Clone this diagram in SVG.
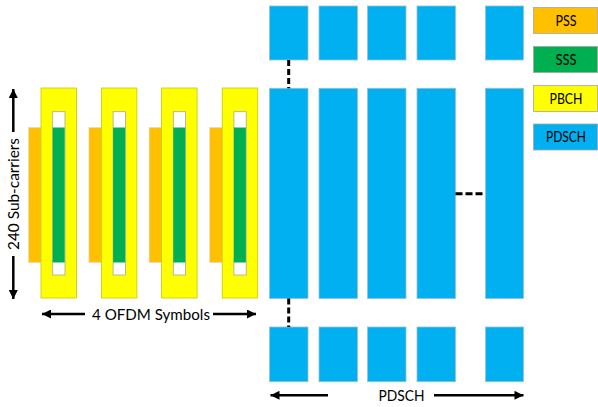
<svg xmlns="http://www.w3.org/2000/svg" width="598" height="407" viewBox="0 0 598 407">
<style>
.y{fill:#FFFF00;stroke:#c8c800;stroke-width:0.8}
.o{fill:#FFC000;stroke:#d9d9d9;stroke-width:0.6}
.g{fill:#00B050}
.w{fill:#ffffff;stroke:#a6a6a6;stroke-width:0.8}
.b{fill:#00B0F0;stroke:#9bbfd0;stroke-width:0.8}
.lg{stroke:#a6a6a6;stroke-width:0.8}
.t{font-family:Lato,"Liberation Sans",sans-serif;fill:#000}
.lt{font-family:Lato,"Liberation Sans",sans-serif;fill:#000;font-size:14.5px}
.dash{stroke:#000;stroke-width:3;fill:none}
.arr{stroke:#000;stroke-width:2.5;fill:none;marker-end:url(#ah)}
</style>
<defs>
<marker id="ah" viewBox="0 0 10 10" refX="10" refY="5" markerWidth="10" markerHeight="9" markerUnits="userSpaceOnUse" orient="auto">
<path d="M0,0 L10,5 L0,10 z" fill="#000"/>
</marker>
</defs>
<rect width="598" height="407" fill="#fff"/>

<g id="ssb1"><rect class="o" x="28.5" y="127.5" width="12.5" height="135"/><rect class="y" x="41" y="88" width="35.5" height="210"/><rect class="w" x="52.7" y="111.7" width="12.3" height="163.3"/><rect class="g" x="52.7" y="127.5" width="12" height="135"/></g>
<g id="ssb2"><rect class="o" x="88.9" y="127.5" width="12.5" height="135"/><rect class="y" x="101.4" y="88" width="35.5" height="210"/><rect class="w" x="113.1" y="111.7" width="12.3" height="163.3"/><rect class="g" x="113.1" y="127.5" width="12" height="135"/></g>
<g id="ssb3"><rect class="o" x="149.1" y="127.5" width="12.5" height="135"/><rect class="y" x="161.6" y="88" width="35.5" height="210"/><rect class="w" x="173.3" y="111.7" width="12.3" height="163.3"/><rect class="g" x="173.3" y="127.5" width="12" height="135"/></g>
<g id="ssb4"><rect class="o" x="209.7" y="127.5" width="12.5" height="135"/><rect class="y" x="222.2" y="88" width="35.5" height="210"/><rect class="w" x="233.9" y="111.7" width="12.3" height="163.3"/><rect class="g" x="233.9" y="127.5" width="12" height="135"/></g>

<g id="pdsch-top">
<rect class="b" x="269.5" y="6" width="38.5" height="54"/>
<rect class="b" x="319" y="6" width="38.5" height="54"/>
<rect class="b" x="367.5" y="6" width="38.5" height="54"/>
<rect class="b" x="417" y="6" width="38.5" height="54"/>
<rect class="b" x="485.5" y="6" width="38" height="54"/>
</g>
<g id="pdsch-mid">
<rect class="b" x="269.5" y="88.3" width="38.5" height="210.2"/>
<rect class="b" x="319" y="88.3" width="38.5" height="210.2"/>
<rect class="b" x="367.5" y="88.3" width="38.5" height="210.2"/>
<rect class="b" x="417" y="88.3" width="38.5" height="210.2"/>
<rect class="b" x="485.5" y="88.3" width="38" height="210.2"/>
</g>
<g id="pdsch-bot">
<rect class="b" x="269.5" y="327" width="38.5" height="54.7"/>
<rect class="b" x="319" y="327" width="38.5" height="54.7"/>
<rect class="b" x="367.5" y="327" width="38.5" height="54.7"/>
<rect class="b" x="417" y="327" width="38.5" height="54.7"/>
<rect class="b" x="485.5" y="327" width="38" height="54.7"/>
</g>

<g id="legend-pss"><rect class="lg" x="533.5" y="7.5" width="64" height="26" fill="#FFC000"/><text class="lt" x="566" y="25.8" text-anchor="middle" textLength="21" lengthAdjust="spacingAndGlyphs">PSS</text></g>
<g id="legend-sss"><rect class="lg" x="533.5" y="46.5" width="64" height="26" fill="#00B050"/><text class="lt" x="566" y="64.8" text-anchor="middle" textLength="21" lengthAdjust="spacingAndGlyphs">SSS</text></g>
<g id="legend-pbch"><rect class="lg" x="533.5" y="85.5" width="64" height="26" fill="#FFFF00"/><text class="lt" x="566" y="103.8" text-anchor="middle" textLength="33" lengthAdjust="spacingAndGlyphs">PBCH</text></g>
<g id="legend-pdsch"><rect class="lg" x="533.5" y="124" width="64" height="26" fill="#00B0F0"/><text class="lt" x="566" y="142.3" text-anchor="middle" textLength="40" lengthAdjust="spacingAndGlyphs">PDSCH</text></g>

<g id="connectors">
<line class="dash" x1="288.7" y1="60" x2="288.7" y2="88.3" stroke-dasharray="6 3"/>
<line class="dash" x1="288.7" y1="298.5" x2="288.7" y2="327" stroke-dasharray="6 3"/>
<line class="dash" x1="455.5" y1="193.7" x2="485.5" y2="193.7" stroke-dasharray="7 3"/>
<line class="arr" x1="13.3" y1="132" x2="13.3" y2="89"/>
<line class="arr" x1="13.3" y1="256" x2="13.3" y2="299"/>
<line class="arr" x1="85" y1="314" x2="42" y2="314"/>
<line class="arr" x1="213" y1="314" x2="256" y2="314"/>
<line class="arr" x1="328" y1="395.3" x2="270.5" y2="395.3"/>
<line class="arr" x1="434" y1="395.3" x2="523.5" y2="395.3"/>
</g>

<text class="t" x="151" y="319.8" font-size="16" text-anchor="middle" textLength="118" lengthAdjust="spacingAndGlyphs">4 OFDM Symbols</text>
<text class="t" x="401.5" y="400.8" font-size="16" text-anchor="middle" textLength="46" lengthAdjust="spacingAndGlyphs">PDSCH</text>
<text class="t" transform="translate(19,194) rotate(-90)" x="0" y="0" font-size="16" text-anchor="middle" textLength="112" lengthAdjust="spacingAndGlyphs">240 Sub-carriers</text>
</svg>
